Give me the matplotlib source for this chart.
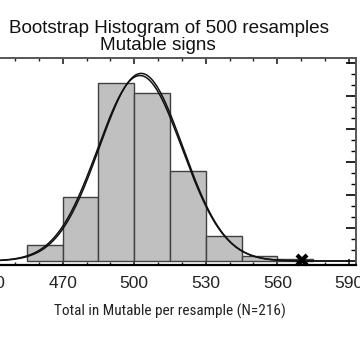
import numpy as np
import matplotlib
matplotlib.use("Agg")
import matplotlib.pyplot as plt
from matplotlib.ticker import MultipleLocator
from matplotlib import font_manager

# ---- data ----
bin_edges = [455, 470, 485, 500, 515, 530, 545, 560, 575]
bin_counts = [15, 58, 162, 153, 82, 23, 5, 2]
n_resamples = 500
fit_normal = {"mean": 502.4, "sd": 17.7}     # normal fit curve
fit_smooth = {"mean": 502.9, "sd": 17.5}     # second (smoothed) curve
observed_value = 570.5
title_line1 = "Bootstrap Histogram of 500 resamples"
title_line2 = "Mutable signs"
x_label = "Total in Mutable per resample (N=216)"
x_major = 30
x_minor = 10

names = {f.name for f in font_manager.fontManager.ttflist}
narrow = None
for cand in ("Liberation Sans Narrow", "Arial Narrow", "Roboto Condensed",
             "Open Sans Condensed", "Noto Sans Condensed"):
    if cand in names:
        narrow = cand
        break
if narrow is not None:
    xlabel_family, xlabel_size = [narrow, "DejaVu Sans"], 11.0
else:
    xlabel_family, xlabel_size = ["Liberation Sans", "DejaVu Sans"], 10.2

plt.rcParams["font.family"] = ["Liberation Sans", "DejaVu Sans"]

W, H = 360, 360
fig = plt.figure(figsize=(3.6, 3.6), dpi=100)
left_px, right_px, top_px, bot_px = -16, 356, 58, 265
ax = fig.add_axes([left_px / W, 1 - bot_px / H, (right_px - left_px) / W, (bot_px - top_px) / H])

widths = np.diff(bin_edges)
ax.bar(bin_edges[:-1], bin_counts, width=widths, align="edge",
       color="#c0c0c0", edgecolor="#404040", linewidth=1.0, zorder=2)

bw = widths[0]
xs = np.linspace(437, 590, 400)
for p in (fit_normal, fit_smooth):
    y = n_resamples * bw * np.exp(-0.5 * ((xs - p["mean"]) / p["sd"]) ** 2) / (p["sd"] * np.sqrt(2 * np.pi))
    ax.plot(xs, y, color="#111111", linewidth=1.1, zorder=3)

ax.plot([observed_value], [1.0], marker="x", color="black", markersize=7.5,
        markeredgewidth=3, linestyle="none", zorder=4, clip_on=False)

ax.set_xlim(437, 593)
ax.set_ylim(-3.6, 185)

ax.xaxis.set_major_locator(MultipleLocator(x_major, offset=20))
ax.xaxis.set_minor_locator(MultipleLocator(x_minor))
ax.yaxis.set_major_locator(MultipleLocator(30))
ax.yaxis.set_minor_locator(MultipleLocator(10))

ax.tick_params(axis="x", which="both", direction="in", top=True, bottom=True,
               labelsize=12.5, pad=8, colors="#222222")
ax.tick_params(axis="x", which="major", length=4, width=1.2)
ax.tick_params(axis="x", which="minor", length=2.5, width=1.0)
ax.tick_params(axis="y", which="both", direction="in", left=False, right=True,
               labelleft=False, labelright=False)
ax.tick_params(axis="y", which="major", length=7, width=1.2)
ax.tick_params(axis="y", which="minor", length=3.5, width=1.0)

for s in ("top", "right"):
    ax.spines[s].set_color("#555555")
    ax.spines[s].set_linewidth(1.4)
ax.spines["bottom"].set_color("black")
ax.spines["bottom"].set_linewidth(1.6)
ax.spines["left"].set_visible(False)

fig.text(169 / W, 1 - 28.5 / H, title_line1, ha="center", va="center", fontsize=13.6, color="#111111")
fig.text(158 / W, 1 - 45.5 / H, title_line2, ha="center", va="center", fontsize=13.6, color="#111111")
fig.text(170 / W, 1 - 311 / H, x_label, ha="center", va="center", fontsize=xlabel_size,
         family=xlabel_family, color="#222222")

fig.savefig("out.png", dpi=100)
